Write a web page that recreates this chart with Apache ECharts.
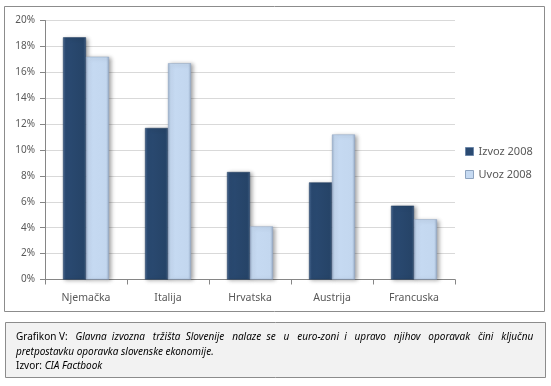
<!DOCTYPE html>
<html><head><meta charset="utf-8">
<script src="https://cdn.jsdelivr.net/npm/echarts@6/dist/echarts.min.js"></script>
<style>html,body{margin:0;padding:0;background:#fff}#c{width:551px;height:386px}</style>
</head><body><div id="c"></div>
<script>
const categories = ['Njemačka','Italija','Hrvatska','Austrija','Francuska'];
const izvoz2008 = [18.7, 11.7, 8.3, 7.5, 5.7];
const uvoz2008 = [17.2, 16.7, 4.1, 11.2, 4.65];
const seriesNames = ['Izvoz 2008','Uvoz 2008'];

const font = 'Noto Sans';
const darkGrad = {type:'linear',x:0,y:0,x2:1,y2:0,colorStops:[
  {offset:0,color:'#4a6a92'},{offset:0.12,color:'#2a4a72'},{offset:0.88,color:'#264468'},{offset:1,color:'#3f5e84'}]};
const lightGrad = {type:'linear',x:0,y:0,x2:1,y2:0,colorStops:[
  {offset:0,color:'#9fb4cf'},{offset:0.12,color:'#c6daf2'},{offset:0.88,color:'#c3d7ef'},{offset:1,color:'#9cb1cc'}]};

const chart = echarts.init(document.getElementById('c'));
chart.setOption({
  backgroundColor:'#ffffff',
  animation:false,
  grid:{left:45,top:20.5,width:410,height:259},
  xAxis:{type:'category',data:categories,
    axisLine:{lineStyle:{color:'#868686'}},
    axisTick:{show:true,length:5,lineStyle:{color:'#868686'}},
    axisLabel:{color:'#595959',fontSize:10.5,fontFamily:font,margin:13}},
  yAxis:{type:'value',min:0,max:20,interval:2,
    axisLine:{show:true,lineStyle:{color:'#868686'}},
    axisTick:{show:true,length:5,lineStyle:{color:'#868686'}},
    splitLine:{lineStyle:{color:'#d9d9d9'}},
    axisLabel:{color:'#595959',fontSize:10,fontFamily:font,margin:10,formatter:'{value}%'}},
  legend:{orient:'vertical',left:460,top:141,itemWidth:8,itemHeight:8,itemGap:12,
    icon:'rect',textStyle:{color:'#595959',fontSize:11,fontFamily:font},
    data:[{name:seriesNames[0],itemStyle:{color:'#2a4a72',borderColor:'#6d87a8',borderWidth:1}},
          {name:seriesNames[1],itemStyle:{color:'#c6daf2',borderColor:'#8ea4c0',borderWidth:1}}]},
  series:[
    {name:seriesNames[0],type:'bar',data:izvoz2008,barWidth:23,barGap:'0%',
      itemStyle:{color:darkGrad,borderColor:'#1f3a5c',borderWidth:0.5,shadowColor:'rgba(0,0,0,0.35)',shadowBlur:4,shadowOffsetX:2,shadowOffsetY:1}},
    {name:seriesNames[1],type:'bar',data:uvoz2008,barWidth:23,
      itemStyle:{color:lightGrad,borderColor:'#8fa5c2',borderWidth:0.5,shadowColor:'rgba(0,0,0,0.35)',shadowBlur:4,shadowOffsetX:2,shadowOffsetY:1}}
  ],
  graphic:[
    {type:'rect',shape:{x:4.5,y:6.5,width:540,height:305},style:{fill:null,stroke:'#8c8c8c',lineWidth:1},silent:true},
    {type:'rect',shape:{x:5.5,y:322.5,width:540,height:55},style:{fill:'#f2f2f2',stroke:'#8c8c8c',lineWidth:1},silent:true},
    {type:'text',left:16,top:330,style:{
      text:'{n|Grafikon V:   }{i|Glavna  izvozna   tržišta  Slovenije   nalaze  se   u   euro-zoni  i   upravo   njihov   oporavak   čini   ključnu}\n{i|pretpostavku oporavka slovenske ekonomije.}\n{n|Izvor: }{i|CIA Factbook}',
      lineHeight:14.5,
      rich:{
        n:{fontFamily:font,fontSize:10,color:'#595959',lineHeight:14.5},
        i:{fontFamily:font,fontSize:10,fontStyle:'italic',color:'#595959',lineHeight:14.5}
      }}}
  ]
});
</script></body></html>
